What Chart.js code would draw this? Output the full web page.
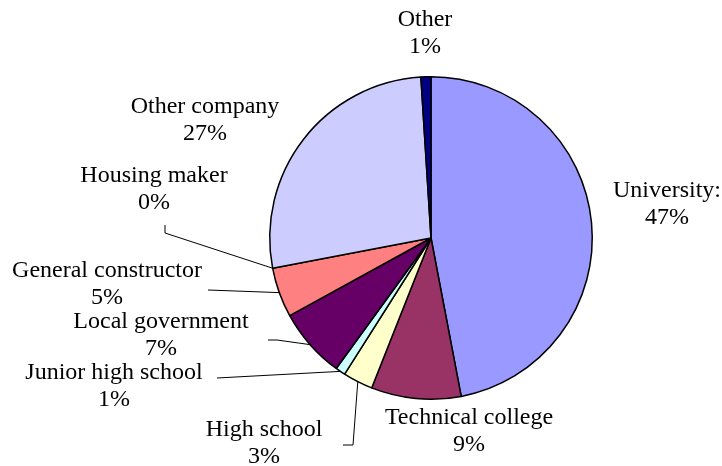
<!DOCTYPE html>
<html lang="en">
<head>
  <meta charset="UTF-8">
  <title>Destinations</title>
  <script src="https://cdn.jsdelivr.net/npm/chart.js"></script>
  <style>
    html, body { margin: 0; padding: 0; background: #fff; }
    #pie { display: block; }
  </style>
</head>
<body>
  <canvas id="pie" width="722" height="466"></canvas>
  <script>
    const categories = ['University:', 'Technical college', 'High school', 'Junior high school',
      'Local government', 'General constructor', 'Housing maker', 'Other company', 'Other'];
    const shares = [47, 9, 3, 1, 7, 5, 0, 27, 1];
    const colors = ['#9999FF', '#993366', '#FFFFCC', '#CCFFFF', '#660066', '#FF8080', '#3366CC', '#CCCCFF', '#000080'];

    // where each two-line label sits (centre x, first line y) and the elbow of its leader line, if any
    const labelPlaces = [
      { x: 667, y: 191 },
      { x: 469, y: 418 },
      { x: 264, y: 430, elbow: [[343, 445], [353, 445]] },
      { x: 114, y: 373, elbow: [[217, 378]] },
      { x: 161, y: 322, elbow: [[268, 340], [277, 340]] },
      { x: 107, y: 271, elbow: [[208, 290]] },
      { x: 154, y: 176, elbow: [[165, 225], [165, 233]] },
      { x: 205, y: 107 },
      { x: 425, y: 20 }
    ];

    const sliceLabels = {
      id: 'sliceLabels',
      afterDatasetsDraw(chart) {
        const ctx = chart.ctx;
        const arcs = chart.getDatasetMeta(0).data;
        ctx.save();
        ctx.strokeStyle = '#000';
        ctx.lineWidth = 1;
        arcs.forEach((arc, i) => {
          const place = labelPlaces[i];
          if (!place.elbow) return;
          const p = arc.getProps(['x', 'y', 'startAngle', 'endAngle', 'outerRadius'], true);
          const mid = (p.startAngle + p.endAngle) / 2;
          ctx.beginPath();
          place.elbow.forEach(([x, y], k) => k ? ctx.lineTo(x, y) : ctx.moveTo(x, y));
          ctx.lineTo(p.x + Math.cos(mid) * p.outerRadius, p.y + Math.sin(mid) * p.outerRadius);
          ctx.stroke();
        });
        ctx.fillStyle = '#000';
        ctx.font = "24px 'Liberation Serif', 'Times New Roman', serif";
        ctx.textAlign = 'center';
        ctx.textBaseline = 'middle';
        categories.forEach((name, i) => {
          const place = labelPlaces[i];
          ctx.fillText(name, place.x, place.y);
          ctx.fillText(shares[i] + '%', place.x, place.y + 27);
        });
        ctx.restore();
      }
    };

    new Chart(document.getElementById('pie'), {
      type: 'pie',
      data: {
        labels: categories,
        datasets: [{
          data: shares,
          backgroundColor: colors,
          borderColor: '#000',
          borderWidth: 1.5
        }]
      },
      options: {
        responsive: false,
        animation: false,
        devicePixelRatio: 1,
        layout: { padding: { left: 269, right: 129, top: 76, bottom: 66 } },
        plugins: { legend: { display: false }, tooltip: { enabled: false } }
      },
      plugins: [sliceLabels]
    });
  </script>
</body>
</html>
